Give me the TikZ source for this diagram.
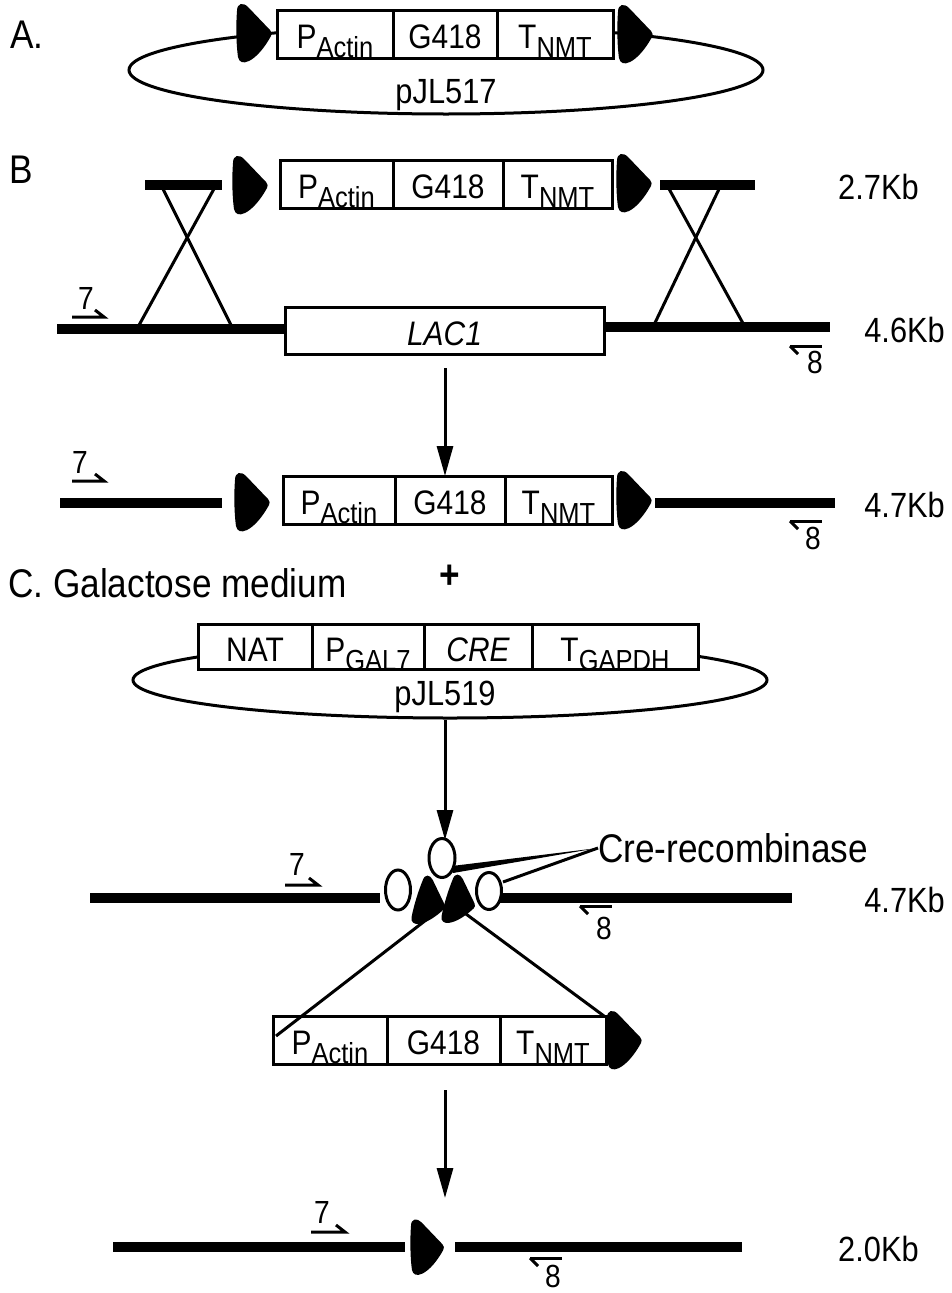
\documentclass[tikz,border=0pt]{standalone}
\usepackage{fontspec}
\setmainfont{Liberation Sans}[FakeStretch=0.88]
\usetikzlibrary{arrows.meta,shapes.geometric}
\newcommand\lsub[1]{\raisebox{-9pt}{\fontsize{29}{29}\selectfont #1}}
\newcommand\bxt[1]{\raisebox{-2pt}{#1}}
\tikzset{
  seg/.style={draw, line width=3pt, fill=white, inner sep=0pt, outer sep=0pt, minimum height=48pt,
    text height=24.3pt, text depth=0pt, font=\fontsize{34}{34}\selectfont, anchor=west},
  lbl/.style={inner sep=0pt, font=\fontsize{35}{35}\selectfont},
  big/.style={inner sep=0pt, font=\fontsize{40}{40}\selectfont},
  kb/.style={inner sep=0pt, font=\fontsize{35}{35}\selectfont, anchor=east},
  num/.style={inner sep=0pt, font=\fontsize{32}{32}\selectfont},
  bar/.style={line width=10pt},
  thinline/.style={line width=3pt},
  arr/.style={line width=3pt, -{Triangle[length=30pt,width=16pt]}},
  oval/.style={ellipse, draw, line width=3pt, fill=white, inner sep=0pt},
  loxp/.pic={\fill (0,-22) .. controls (0,-30) and (6,-31) .. (11,-26) -- (33,-3)
      .. controls (35,-1) and (35,1) .. (34,3) .. controls (28,14) and (20,24) .. (12,28)
      .. controls (6,31) and (2,29) .. (1,24) .. controls (-1,10) and (-1,-10) .. (0,-22) -- cycle;},
}
\begin{document}
\begin{tikzpicture}[x=1pt,y=-1pt]
\useasboundingbox (0,0) rectangle (951,1293);
% ---------------- A ----------------
\node[big, anchor=west] (labA) at (10,35) {A.};
\draw[thinline] (446,70) ellipse [x radius=317, y radius=44];
\node[lbl] (p517) at (446,95) {pJL517};
\pic at (237,33) {loxp};
\pic at (618,34) {loxp};
\node[seg, minimum width=116pt] (a1) at (277,34) {\bxt{P\lsub{Actin}}};
\node[seg, minimum width=104pt] (a2) at (a1.east) {\bxt{G418}};
\node[seg, minimum width=116pt] (a3) at (a2.east) {\bxt{T\lsub{NMT}}};
% ---------------- B ----------------
\node[big, anchor=west] (labB) at (9,170) {B};
\coordinate (bl1) at (145,185); \coordinate (bl2) at (222,185);
\coordinate (br1) at (660,185); \coordinate (br2) at (755,185);
\draw[bar] (bl1) -- (bl2);
\draw[bar] (br1) -- (br2);
\pic at (233,185) {loxp};
\pic at (617,183) {loxp};
\node[seg, minimum width=113pt] (b1) at (280,184) {\bxt{P\lsub{Actin}}};
\node[seg, minimum width=110pt] (b2) at (b1.east) {\bxt{G418}};
\node[seg, minimum width=109pt] (b3) at (b2.east) {\bxt{T\lsub{NMT}}};
\node[kb, anchor=west] (kb27) at (838,187) {2.7Kb};
% crossovers
\draw[thinline] (162,187) -- (232,327);
\draw[thinline] (215,187) -- (138,327);
\draw[thinline] (668,187) -- (745,327);
\draw[thinline] (720,187) -- (653,327);
% chromosome
\coordinate (g1) at (57,329); \coordinate (g2) at (287,329);
\coordinate (g3) at (602,327); \coordinate (g4) at (830,327);
\draw[bar] (g1) -- (g2);
\draw[bar] (g3) -- (g4);
\node[seg, minimum width=319pt, minimum height=47pt] (lac) at (285,331) {\bxt{\itshape LAC1}};
\node[kb] (kb46) at (945,330) {4.6Kb};
% primers
\node[num] (p7a) at (86,298) {7};
\draw[thinline] (72,317) -- (104,317) -- (95,310);
\draw[thinline] (790,346) -- (822,346);
\draw[thinline] (790,346) -- (798,354);
\node[num] (p8a) at (815,362) {8};
% arrow
\coordinate (ar1s) at (445,368);
\draw[arr] (ar1s) -- (445,476);
% integrated
\coordinate (h1) at (60,503); \coordinate (h2) at (222,503);
\coordinate (h3) at (655,503); \coordinate (h4) at (835,503);
\draw[bar] (h1) -- (h2);
\draw[bar] (h3) -- (h4);
\pic at (235,502) {loxp};
\pic at (617,500) {loxp};
\node[seg, minimum width=112pt] (c1) at (283,500) {\bxt{P\lsub{Actin}}};
\node[seg, minimum width=110pt] (c2) at (c1.east) {\bxt{G418}};
\node[seg, minimum width=107pt] (c3) at (c2.east) {\bxt{T\lsub{NMT}}};
\node[kb] (kb47a) at (945,505) {4.7Kb};
\node[num] (p7b) at (80,462) {7};
\draw[thinline] (72,481) -- (104,481) -- (95,474);
\draw[thinline] (790,521) -- (822,521);
\draw[thinline] (790,521) -- (798,529);
\node[num] (p8b) at (813,538) {8};
% ---------------- C ----------------
\node[big, anchor=west] (labC) at (8,583) {C.\ Galactose medium};
\node[big, font=\fontsize{40}{40}\selectfont\bfseries] (plus) at (450,577) {+};
\draw[thinline] (450,680) ellipse [x radius=317, y radius=38];
\node[lbl] (p519) at (445,697) {pJL519};
\node[seg, minimum width=114pt, minimum height=45pt] (n1) at (198,647) {\bxt{NAT}};
\node[seg, minimum width=112pt, minimum height=45pt] (n2) at (n1.east) {\bxt{P\lsub{GAL7}}};
\node[seg, minimum width=108pt, minimum height=45pt] (n3) at (n2.east) {\bxt{\itshape CRE}};
\node[seg, minimum width=166pt, minimum height=45pt] (n4) at (n3.east) {\bxt{T\lsub{GAPDH}}};
\coordinate (ar2s) at (445,720);
\draw[arr] (ar2s) -- (445,840);
% chromosome with cre
\coordinate (k1) at (90,898); \coordinate (k2) at (380,898);
\coordinate (k3) at (500,898); \coordinate (k4) at (792,898);
\draw[bar] (k1) -- (k2);
\draw[bar] (k3) -- (k4);
\node[oval, minimum width=26pt, minimum height=39pt] (o1) at (442,858) {};
\node[oval, minimum width=25pt, minimum height=40pt] (o2) at (398,890) {};
\node[oval, minimum width=25pt, minimum height=37pt] (o3) at (489,891) {};
\pic[rotate=-18, scale=0.85] at (417,898) {loxp};
\pic[rotate=-18, scale=0.85] at (447,897) {loxp};
\node[big, anchor=west] (cre) at (598,848) {Cre-recombinase};
\fill (cre.west) -- (452,866) -- (453,873) -- cycle;
\draw[thinline] (cre.west) -- (503,882);
\node[kb] (kb47b) at (945,900) {4.7Kb};
\node[num] (p7c) at (297,864) {7};
\draw[thinline] (285,885) -- (318,885) -- (309,878);
\draw[thinline] (580,906) -- (612,906);
\draw[thinline] (580,906) -- (588,914);
\node[num] (p8c) at (604,928) {8};
% excised cassette
\coordinate (t1) at (426,920); \coordinate (t2) at (466,914);
\coordinate (e1) at (276,1036); \coordinate (e2) at (604,1016);
\pic at (607,1040) {loxp};
\node[seg, minimum width=114pt] (d1) at (273,1040) {\bxt{P\lsub{Actin}}};
\node[seg, minimum width=113pt] (d2) at (d1.east) {\bxt{G418}};
\node[seg, minimum width=106pt] (d3) at (d2.east) {\bxt{T\lsub{NMT}}};
\draw[thinline] (t1) -- (e1);
\draw[thinline] (t2) -- (e2);
\coordinate (ar3s) at (445,1090);
\draw[arr] (ar3s) -- (445,1198);
% final
\coordinate (f1) at (113,1247); \coordinate (f2) at (405,1247);
\coordinate (f3) at (455,1247); \coordinate (f4) at (742,1247);
\draw[bar] (f1) -- (f2);
\draw[bar] (f3) -- (f4);
\pic[scale=0.95] at (411,1247) {loxp};
\node[kb, anchor=west] (kb20) at (838,1249) {2.0Kb};
\node[num] (p7d) at (322,1212) {7};
\draw[thinline] (311,1232) -- (345,1232) -- (336,1225);
\draw[thinline] (530,1258) -- (562,1258);
\draw[thinline] (530,1258) -- (538,1266);
\node[num] (p8d) at (553,1276) {8};
\end{tikzpicture}
\end{document}
